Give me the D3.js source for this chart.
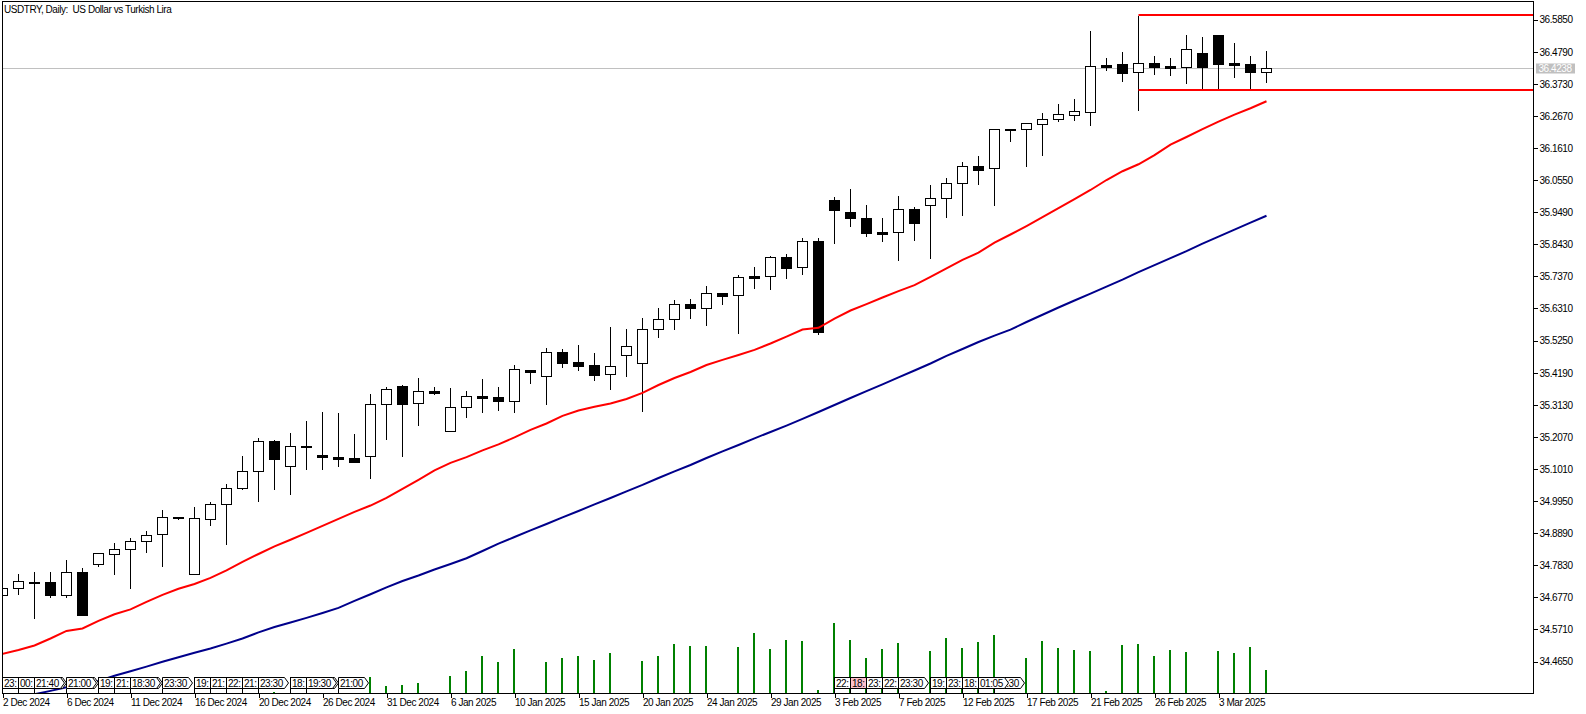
<!DOCTYPE html>
<html><head><meta charset="utf-8">
<script src="https://cdn.jsdelivr.net/npm/d3@7"></script>
<style>
html,body{margin:0;padding:0;background:#fff;}
svg{display:block;font-family:"Liberation Sans",Arial,sans-serif;font-size:10px;}
.t{letter-spacing:-0.45px;}
</style></head><body>
<svg id="c" width="1586" height="714"></svg>
<script>
// ---------------- DATA ----------------
const title = "USDTRY, Daily:  US Dollar vs Turkish Lira";

const dates = ["2 Dec 2024","3 Dec 2024","4 Dec 2024","5 Dec 2024","6 Dec 2024","8 Dec 2024","9 Dec 2024","10 Dec 2024","11 Dec 2024","12 Dec 2024",
"13 Dec 2024","15 Dec 2024","16 Dec 2024","17 Dec 2024","18 Dec 2024","19 Dec 2024","20 Dec 2024","22 Dec 2024","23 Dec 2024","24 Dec 2024",
"26 Dec 2024","27 Dec 2024","29 Dec 2024","30 Dec 2024","31 Dec 2024","2 Jan 2025","3 Jan 2025","5 Jan 2025","6 Jan 2025","7 Jan 2025",
"8 Jan 2025","9 Jan 2025","10 Jan 2025","12 Jan 2025","13 Jan 2025","14 Jan 2025","15 Jan 2025","16 Jan 2025","17 Jan 2025","19 Jan 2025",
"20 Jan 2025","21 Jan 2025","22 Jan 2025","23 Jan 2025","24 Jan 2025","26 Jan 2025","27 Jan 2025","28 Jan 2025","29 Jan 2025","30 Jan 2025",
"31 Jan 2025","2 Feb 2025","3 Feb 2025","4 Feb 2025","5 Feb 2025","6 Feb 2025","7 Feb 2025","9 Feb 2025","10 Feb 2025","11 Feb 2025",
"12 Feb 2025","13 Feb 2025","14 Feb 2025","16 Feb 2025","17 Feb 2025","18 Feb 2025","19 Feb 2025","20 Feb 2025","21 Feb 2025","23 Feb 2025",
"24 Feb 2025","25 Feb 2025","26 Feb 2025","27 Feb 2025","28 Feb 2025","2 Mar 2025","3 Mar 2025","4 Mar 2025","5 Mar 2025","6 Mar 2025"];

const open  = [34.683,34.707,34.729,34.727,34.683,34.760,34.786,34.819,34.836,34.862,
34.885,34.942,34.753,34.935,34.984,35.037,35.093,35.192,35.110,35.177,
35.147,35.141,35.137,35.145,35.314,35.374,35.318,35.357,35.225,35.305,
35.342,35.338,35.324,35.428,35.407,35.486,35.454,35.443,35.413,35.476,
35.450,35.562,35.595,35.644,35.631,35.681,35.674,35.738,35.737,35.800,
35.767,35.852,35.989,35.949,35.929,35.883,35.882,35.959,35.974,35.994,
36.044,36.100,36.093,36.225,36.224,36.240,36.257,36.270,36.281,36.434,
36.437,36.413,36.441,36.431,36.427,36.474,36.533,36.442,36.437,36.413];
const high  = [34.708,34.757,34.764,34.764,34.804,34.777,34.826,34.860,34.876,34.900,
34.969,34.945,34.978,34.995,35.055,35.147,35.207,35.200,35.223,35.263,
35.292,35.289,35.220,35.352,35.374,35.381,35.405,35.374,35.372,35.361,
35.400,35.375,35.447,35.431,35.503,35.500,35.513,35.487,35.573,35.566,
35.603,35.636,35.662,35.665,35.708,35.685,35.744,35.771,35.807,35.813,
35.867,35.867,36.002,36.028,35.975,35.933,36.005,35.969,36.041,36.065,
36.117,36.137,36.228,36.226,36.243,36.279,36.309,36.325,36.550,36.460,
36.480,36.600,36.467,36.461,36.537,36.531,36.537,36.510,36.467,36.485];
const low   = [34.682,34.689,34.607,34.679,34.679,34.617,34.782,34.755,34.709,34.825,
34.782,34.935,34.753,34.917,34.854,35.033,34.996,35.036,35.018,35.102,
35.102,35.112,35.125,35.072,35.201,35.145,35.247,35.349,35.225,35.274,
35.290,35.297,35.290,35.386,35.316,35.439,35.429,35.396,35.366,35.409,
35.293,35.538,35.564,35.600,35.577,35.646,35.551,35.699,35.696,35.732,
35.745,35.547,35.848,35.904,35.871,35.854,35.792,35.858,35.798,35.934,
35.940,36.042,35.973,36.184,36.102,36.138,36.250,36.254,36.237,36.419,
36.382,36.287,36.405,36.402,36.376,36.359,36.354,36.396,36.354,36.379];
const close = [34.707,34.730,34.727,34.683,34.760,34.620,34.823,34.836,34.862,34.882,
34.941,34.938,34.938,34.984,35.037,35.093,35.192,35.135,35.176,35.173,
35.139,35.135,35.125,35.314,35.364,35.316,35.357,35.350,35.305,35.341,
35.336,35.324,35.430,35.422,35.486,35.452,35.442,35.412,35.440,35.506,
35.562,35.595,35.644,35.631,35.681,35.671,35.734,35.732,35.800,35.765,
35.852,35.554,35.957,35.930,35.881,35.877,35.959,35.914,35.994,36.044,
36.100,36.089,36.225,36.221,36.242,36.258,36.272,36.282,36.433,36.429,
36.409,36.440,36.429,36.425,36.486,36.428,36.438,36.435,36.412,36.4238];

// moving averages (red = fast, navy = slow)
const maFast = [34.490,34.503,34.518,34.541,34.566,34.574,34.599,34.621,34.637,34.662,
34.685,34.705,34.721,34.741,34.766,34.794,34.820,34.845,34.867,34.890,
34.913,34.936,34.959,34.980,35.005,35.035,35.065,35.096,35.121,35.140,
35.162,35.182,35.205,35.230,35.251,35.276,35.294,35.306,35.317,35.332,
35.352,35.378,35.401,35.421,35.444,35.461,35.477,35.494,35.515,35.538,
35.561,35.567,35.597,35.624,35.645,35.667,35.688,35.708,35.735,35.763,
35.791,35.815,35.848,35.875,35.903,35.932,35.962,35.992,36.022,36.055,
36.084,36.107,36.137,36.172,36.197,36.223,36.248,36.271,36.292,36.315];
const maSlow = [34.332,34.345,34.357,34.368,34.380,34.390,34.401,34.418,34.433,34.448,
34.464,34.479,34.494,34.508,34.524,34.541,34.561,34.579,34.594,34.609,
34.625,34.642,34.665,34.687,34.710,34.731,34.749,34.769,34.787,34.806,
34.830,34.854,34.876,34.898,34.919,34.941,34.962,34.984,35.005,35.027,
35.048,35.071,35.093,35.114,35.137,35.159,35.180,35.202,35.223,35.244,
35.266,35.289,35.312,35.335,35.358,35.380,35.403,35.426,35.449,35.474,
35.497,35.520,35.541,35.561,35.586,35.610,35.634,35.657,35.680,35.703,
35.726,35.751,35.774,35.797,35.820,35.845,35.868,35.891,35.914,35.937];

const volume = [0,0,0,0,0,0,0,0,0,0,
0,0,0,0,0,0,0,150,0,0,
0,0,0,1560,730,800,1030,0,1730,2230,
3730,3130,4430,0,3130,3530,3730,3330,4030,0,
3230,3730,4930,4730,4730,0,4630,6030,4430,5330,
5230,330,7030,5330,3530,4430,5030,0,4230,5530,
4530,5130,5830,0,3530,5230,4530,4330,4230,230,
4830,4930,3730,4330,4130,0,4230,4030,4630,2270];

const yTicks = [36.5850,36.4790,36.3730,36.2670,36.1610,36.0550,35.9490,35.8430,35.7370,35.6310,35.5250,
35.4190,35.3130,35.2070,35.1010,34.9950,34.8890,34.7830,34.6770,34.5710,34.4650];
const xTickIdx = [0,4,8,12,16,20,24,28,32,36,40,44,48,52,56,60,64,68,72,76];

const lastPrice = 36.4238;
const levelHigh = 36.6002, levelLow = 36.3527, levelStartIdx = 71;

// calendar-event markers: bar index, label text, stacked count, highlighted
const eventIdx   = [0,1,2,4,6,7,8,10,12,13,14,15,16,18,19,21, 52,53,54,55,56,58,59,60,62,61];
const eventText  = ["23:","00:","21:40","21:00","19:","21:","18:30","23:30","19:","21:","22:","21:","23:30","18:","19:30","21:00",
                    "22:","18:","23:","22:","23:30","19:","23:","18:","23:30","01:05"];
const eventCount = [1,1,2,2,1,1,2,1,1,1,1,1,1,1,2,1, 1,1,1,1,1,1,1,1,1,1];
const eventHot   = [0,0,0,0,0,0,0,0,0,0,0,0,0,0,0,0, 0,1,0,0,0,0,0,0,0,0];

// ---------------- CHART ----------------
const svg = d3.select("#c");
const L = 2.5, T = 1.5, R = 1533.5, B = 693.5;

const x = d3.scaleLinear().domain([0, 79]).range([2.5, 2.5 + 16 * 79]);
const y = d3.scaleLinear().domain([34.465, 36.585]).range([661.5, 19.5]);
const v = d3.scaleLinear().domain([0, d3.max(volume)]).range([693, 693 - 70.3]);

svg.append("rect").attr("width", 1586).attr("height", 714).attr("fill", "#fff");

svg.append("defs").append("clipPath").attr("id", "clip")
  .append("rect").attr("x", 3).attr("y", 2).attr("width", R - 3.5).attr("height", B - 2.5);

const plot = svg.append("g").attr("clip-path", "url(#clip)");

// volumes
plot.append("g").attr("shape-rendering", "crispEdges").selectAll("rect")
  .data(volume.map((d, i) => ({ d, i })).filter(o => o.d > 0))
  .join("rect")
  .attr("x", o => x(o.i) - 1.5).attr("width", 2)
  .attr("y", o => v(o.d)).attr("height", o => v(0) - v(o.d))
  .attr("fill", "#008000");

// bid line
plot.append("line").attr("x1", L).attr("x2", R)
  .attr("y1", Math.round(y(lastPrice)) + 0.5).attr("y2", Math.round(y(lastPrice)) + 0.5)
  .attr("stroke", "#c0c0c0").attr("stroke-width", 1);

// candles
const cg = plot.append("g").attr("shape-rendering", "crispEdges");
open.forEach((o, i) => {
  const c = close[i], cx = x(i);
  const up = c >= o;
  cg.append("line").attr("x1", cx).attr("x2", cx)
    .attr("y1", Math.round(y(high[i])) + 0.5).attr("y2", Math.round(y(low[i])) + 0.5)
    .attr("stroke", "#000").attr("stroke-width", 1);
  const yt = Math.round(y(Math.max(o, c))) + 0.5;
  const yb = Math.round(y(Math.min(o, c))) + 0.5;
  cg.append("rect").attr("x", cx - 5).attr("width", 10)
    .attr("y", yt).attr("height", Math.max(yb - yt, 1))
    .attr("fill", up ? "#fff" : "#000").attr("stroke", "#000").attr("stroke-width", 1);
});

// moving averages
const line = d3.line().x((d, i) => x(i)).y(d => y(d));
plot.append("path").datum(maSlow).attr("d", line).attr("fill", "none")
  .attr("stroke", "#00008b").attr("stroke-width", 2);
plot.append("path").datum(maFast).attr("d", line).attr("fill", "none")
  .attr("stroke", "#ff0000").attr("stroke-width", 2);

// range lines
[levelHigh, levelLow].forEach(p => {
  plot.append("line").attr("x1", x(levelStartIdx)).attr("x2", R)
    .attr("y1", Math.round(y(p))).attr("y2", Math.round(y(p)))
    .attr("stroke", "#ff0000").attr("stroke-width", 2);
});

// event markers
const eg = svg.append("g").attr("shape-rendering", "crispEdges");
const eTop = 677.5, eBot = 688.5, eMid = (eTop + eBot) / 2;
eventIdx.forEach((bi, k) => {
  const cx = x(bi);
  const txt = eventText[k];
  const g = eg.append("g");
  const probe = g.append("text").attr("class", "t").text(txt);
  const tw = probe.node().getComputedTextLength();
  probe.remove();
  const w = Math.ceil(tw) + 3;
  const arrow = txt.length > 3;
  for (let s = eventCount[k] - 1; s >= 0; s--) {
    const ox = cx + s * 2;
    const p = arrow
      ? `M${ox},${eTop}H${ox + w}L${ox + w + 4},${eMid}L${ox + w},${eBot}H${ox}Z`
      : `M${ox},${eTop}H${ox + w}V${eBot}H${ox}Z`;
    g.append("path").attr("d", p)
      .attr("fill", eventHot[k] ? "#ffc0cb" : "#fff")
      .attr("stroke", "#000").attr("stroke-width", 1)
      .attr("shape-rendering", arrow ? "auto" : "crispEdges");
  }
  g.append("line").attr("x1", cx).attr("x2", cx).attr("y1", eBot).attr("y2", B)
    .attr("stroke", "#000");
  g.append("text").attr("class", "t").attr("x", cx + 1.5).attr("y", eBot - 2)
    .attr("fill", "#000").text(txt);
});

// frame
const fr = svg.append("g").attr("shape-rendering", "crispEdges").attr("stroke", "#000").attr("fill", "none");
fr.append("path").attr("d", `M${L},${B}V${T}H${R}V${B}H${L}`);

// y axis
const ya = svg.append("g").attr("transform", `translate(${R},0)`)
  .call(d3.axisRight(y).tickValues(yTicks).tickFormat(d3.format(".4f")).tickSize(4).tickSizeOuter(0).tickPadding(2));
ya.select(".domain").remove();
ya.selectAll(".tick line").attr("stroke", "#000").attr("shape-rendering", "crispEdges");
ya.selectAll(".tick text").attr("class", "t").attr("font-size", 10)
  .attr("font-family", "Liberation Sans, Arial, sans-serif").attr("fill", "#000").attr("dy", "0.34em");

// bid label
const by = Math.round(y(lastPrice)) + 0.5;
svg.append("rect").attr("x", R + 2.5).attr("y", by - 5).attr("width", 39).attr("height", 10)
  .attr("fill", "#c0c0c0");
svg.append("text").attr("class", "t").attr("x", R + 5).attr("y", by + 3.5)
  .attr("fill", "#fff").text(d3.format(".4f")(lastPrice));

// x axis
const xa = svg.append("g").attr("transform", `translate(0,${B})`)
  .call(d3.axisBottom(x).tickValues(xTickIdx).tickFormat(i => dates[i]).tickSize(4).tickSizeOuter(0).tickPadding(2));
xa.select(".domain").remove();
xa.selectAll(".tick line").attr("stroke", "#000").attr("shape-rendering", "crispEdges");
xa.selectAll(".tick text").attr("class", "t").attr("text-anchor", "start").attr("x", 0)
  .attr("y", 12.5).attr("dy", null).attr("font-size", 10)
  .attr("font-family", "Liberation Sans, Arial, sans-serif").attr("fill", "#000");

// title
svg.append("text").attr("class", "t").attr("x", 4).attr("y", 12.5)
  .style("white-space", "pre").attr("fill", "#000").text(title);
</script>
</body></html>
